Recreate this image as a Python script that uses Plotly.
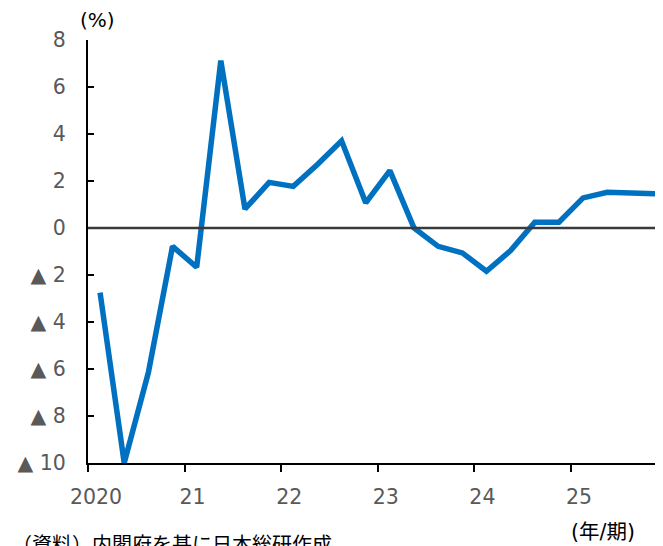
import plotly.graph_objects as go

# Quarterly values 2020Q1 .. 2025Q4 (%)
quarters = [f"{y}Q{q}" for y in range(2020, 2026) for q in range(1, 5)]
values = [-2.75, -10.0, -6.15, -0.78, -1.67, 7.12, 0.81, 1.94,
          1.77, 2.70, 3.71, 1.07, 2.44, 0.00, -0.78, -1.06,
          -1.84, -0.96, 0.25, 0.25, 1.28, 1.52, 1.49, 1.46]
year_labels = ["2020", "21", "22", "23", "24", "25"]
y_ticks = [8, 6, 4, 2, 0, -2, -4, -6, -8, -10]
y_ticktext = ["8", "6", "4", "2", "0", "▲ 2", "▲ 4", "▲ 6", "▲ 8", "▲ 10"]

x_pos = [i + 0.5 for i in range(len(values))]
year_pos = [i * 4 for i in range(len(year_labels))]

FONT = "DejaVu Sans, Noto Sans CJK JP, sans-serif"
JFONT = "Noto Sans CJK JP, DejaVu Sans, sans-serif"

fig = go.Figure()
fig.add_trace(go.Scatter(
    x=x_pos, y=values, mode="lines",
    line=dict(color="#0070C0", width=5.5),
    hoverinfo="skip", showlegend=False,
))

fig.add_shape(type="line", xref="paper", yref="y", x0=0, x1=1, y0=0, y1=0,
              line=dict(color="#3a3a3a", width=2.5), layer="above")

# page body has an 8px margin, so the figure is drawn at (8, 8)
fig.update_layout(
    width=655, height=538,
    margin=dict(l=80, r=0, t=32, b=83),
    paper_bgcolor="white", plot_bgcolor="white",
    showlegend=False,
    font=dict(family=FONT, size=20, color="#595959"),
)

fig.update_xaxes(
    range=[0, 23.81],
    tickvals=year_pos, ticktext=year_labels,
    ticks="outside", ticklen=7, tickwidth=2, tickcolor="black",
    showline=True, linecolor="black", linewidth=2,
    showgrid=False, zeroline=False,
    tickfont=dict(family=FONT, size=20.5, color="#595959"),
    ticklabelshift=8, ticklabelstandoff=7,
)
fig.update_yaxes(
    range=[-10, 8],
    tickvals=y_ticks, ticktext=y_ticktext,
    ticks="inside", ticklen=6, tickwidth=2, tickcolor="black",
    showline=True, linecolor="black", linewidth=2,
    showgrid=False, zeroline=False,
    tickfont=dict(family=FONT, size=20.5, color="#595959"),
    ticklabelstandoff=16,
)

fig.add_annotation(text="(%)", xref="paper", yref="paper",
                   x=(97 - 88) / 575, y=1 + (40 - 20) / 423,
                   xanchor="center", yanchor="middle", showarrow=False,
                   font=dict(family=FONT, size=20, color="black"))
fig.add_annotation(text="(年/期)", xref="paper", yref="paper",
                   x=(603 - 88) / 575, y=-(532 - 463) / 423,
                   xanchor="center", yanchor="middle", showarrow=False,
                   font=dict(family=FONT, size=20.5, color="black"))
fig.add_annotation(text="（資料）内閣府を基に日本総研作成", xref="paper", yref="paper",
                   x=(10 - 88) / 575, y=-(527 - 463) / 423,
                   xanchor="left", yanchor="top", showarrow=False,
                   font=dict(family=JFONT, size=20, color="black"))

fig.write_html("out.html")
